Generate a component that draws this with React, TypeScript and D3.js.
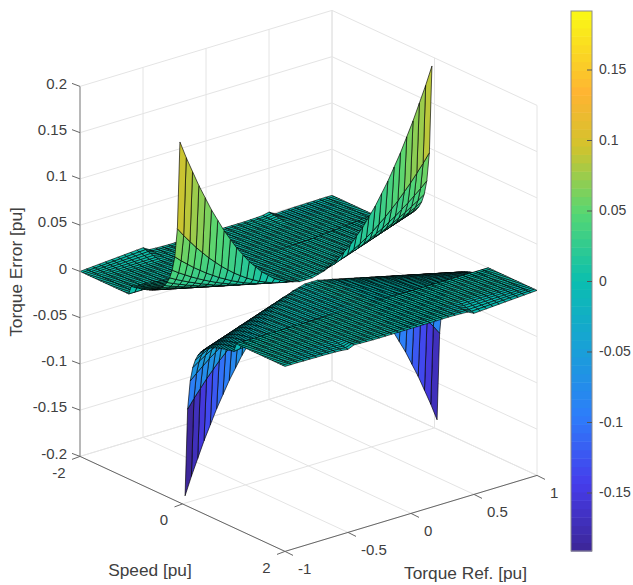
import * as React from "react";
import { useRef, useEffect } from "react";
import * as d3 from "d3";

// torque reference columns and the t^2-like shape read along the spike edges
const torqueRef = [
  -1, -0.95, -0.9, -0.85, -0.8, -0.75, -0.7, -0.65, -0.6, -0.55, -0.5, -0.45, -0.4, -0.35,
  -0.3, -0.25, -0.2, -0.15, -0.1, -0.05, 0, 0.05, 0.1, 0.15, 0.2, 0.25, 0.3, 0.35, 0.4, 0.45,
  0.5, 0.55, 0.6, 0.65, 0.7, 0.75, 0.8, 0.85, 0.9, 0.95, 1,
];
const torqueShape = [
  1, 0.9, 0.81, 0.72, 0.64, 0.56, 0.49, 0.42, 0.36, 0.3, 0.25, 0.2, 0.16, 0.12, 0.09, 0.06,
  0.04, 0.02, 0.01, 0, 0, 0, 0.01, 0.02, 0.04, 0.06, 0.09, 0.12, 0.16, 0.2, 0.25, 0.3, 0.36,
  0.42, 0.49, 0.56, 0.64, 0.72, 0.81, 0.9, 1,
];
// small ridges near |torque| = 0.5 in the |speed| > 1 part, one per sheet
const ridgeShapeNeg = [
  0, 0.1, 0.2, 0.3, 0.4, 0.5, 0.6, 0.7, 0.8, 0.9, 1, 0.2, 0.1, 0.05, 0, 0, 0, 0, 0, 0, 0, 0, 0,
  0, 0, 0, 0, 0.05, 0.1, 0.2, 0.5, -0.3, -0.2, -0.15, -0.1, -0.1, -0.05, -0.05, 0, 0, 0,
];
const ridgeShapePos = [
  0, 0, 0, 0.05, 0.05, 0.1, 0.1, 0.15, 0.2, 0.3, 0.5, -0.2, -0.1, -0.05, 0, 0, 0, 0, 0, 0, 0, 0,
  0, 0, 0, 0, 0, 0.05, 0.1, 0.2, 1, 0.9, 0.8, 0.7, 0.6, 0.5, 0.4, 0.3, 0.2, 0.1, 0,
];

const speedNeg = [
  -2, -1.95, -1.9, -1.85, -1.8, -1.75, -1.7, -1.65, -1.6, -1.55, -1.5, -1.45, -1.4, -1.35, -1.3,
  -1.25, -1.2, -1.15, -1.1, -1.05, -1, -0.95, -0.9, -0.85, -0.8, -0.75, -0.7, -0.65, -0.6, -0.55,
  -0.5, -0.45, -0.4, -0.35, -0.3, -0.25, -0.2, -0.15, -0.1, -0.05,
];
const peakNeg = [
  0, 0, 0, 0, 0, 0, 0, 0, 0, 0, 0, 0, 0, 0, 0, 0, 0, 0, 0, 0, 0.0095, 0.01, 0.0106, 0.0112,
  0.0119, 0.0127, 0.0136, 0.0146, 0.0158, 0.0173, 0.019, 0.0211, 0.0238, 0.0271, 0.0317, 0.038,
  0.0475, 0.0633, 0.095, 0.19,
];
const ridgeNeg = [
  0.005, 0.0042, 0.0034, 0.0026, 0.0018, 0.001, 0.0005, 0, 0, 0, 0, 0, 0, 0, 0, 0, 0, 0, 0, 0, 0,
  0, 0, 0, 0, 0, 0, 0, 0, 0, 0, 0, 0, 0, 0, 0, 0, 0, 0, 0,
];

const speedPos = [
  0.05, 0.1, 0.15, 0.2, 0.25, 0.3, 0.35, 0.4, 0.45, 0.5, 0.55, 0.6, 0.65, 0.7, 0.75, 0.8, 0.85,
  0.9, 0.95, 1, 1.05, 1.1, 1.15, 1.2, 1.25, 1.3, 1.35, 1.4, 1.45, 1.5, 1.55, 1.6, 1.65, 1.7, 1.75,
  1.8, 1.85, 1.9, 1.95, 2,
];
const peakPos = [
  -0.19, -0.095, -0.0633, -0.0475, -0.038, -0.0317, -0.0271, -0.0238, -0.0211, -0.019, -0.0173,
  -0.0158, -0.0146, -0.0136, -0.0127, -0.0119, -0.0112, -0.0106, -0.01, -0.0095, 0, 0, 0, 0, 0, 0,
  0, 0, 0, 0, 0, 0, 0, 0, 0, 0, 0, 0, 0, 0,
];
const ridgePos = [
  0, 0, 0, 0, 0, 0, 0, 0, 0, 0, 0, 0, 0, 0, 0, 0, 0, 0, 0, 0, 0, 0, 0, 0, 0, 0, 0, 0, 0, 0, 0, 0,
  0, 0.0001, 0.0005, 0.001, 0.0018, 0.0026, 0.0034, 0.0042,
].map((v) => -v);

const zTicks = [-0.2, -0.15, -0.1, -0.05, 0, 0.05, 0.1, 0.15, 0.2];
const speedTicks = [-2, 0, 2];
const torqueTicks = [-1, -0.5, 0, 0.5, 1];
const colorTicks = [-0.15, -0.1, -0.05, 0, 0.05, 0.1, 0.15];

const colorStops = [0, 0.125, 0.25, 0.375, 0.5, 0.625, 0.75, 0.85, 0.9, 1];
const colorValues = [
  "rgb(60,38,150)", "rgb(70,60,235)", "rgb(45,125,250)", "rgb(25,160,215)", "rgb(10,190,175)",
  "rgb(85,215,115)", "rgb(210,195,45)", "rgb(255,180,50)", "rgb(250,205,40)", "rgb(250,250,20)",
];

const zMin = -0.1915;
const zMax = 0.1915;
const textColor = "#404040";
const gridColor = "#e4e4e4";
const fontFamily = "'Liberation Sans', Arial, sans-serif";

export default function App() {
  const _parentRef = useRef<SVGSVGElement | null>(null);
  useEffect(() => {
    const svg = d3.select(_parentRef.current);
    svg.selectAll("*").remove();

    // oblique projection of the MATLAB box, from its corners in the picture
    const speedX = d3.scaleLinear().domain([-2, 2]).range([0, 205]);
    const speedY = d3.scaleLinear().domain([-2, 2]).range([0, 95]);
    const torqueX = d3.scaleLinear().domain([-1, 1]).range([0, 252]);
    const torqueY = d3.scaleLinear().domain([-1, 1]).range([0, -76]);
    const errorY = d3.scaleLinear().domain([-0.2, 0.2]).range([0, -370]);
    const project = (s: number, t: number, z: number): [number, number] => [
      80 + speedX(s) + torqueX(t),
      456.4 + speedY(s) + torqueY(t) + errorY(z),
    ];
    const line = d3.line();

    const colormap = d3
      .scaleLinear<string>()
      .domain(colorStops)
      .range(colorValues)
      .interpolate(d3.interpolateRgb);
    const band = (z: number) => {
      const k = Math.min(63, Math.max(0, Math.floor(((z - zMin) / (zMax - zMin)) * 64)));
      return colormap((k + 0.5) / 64);
    };

    // grid on the walls and the floor
    const grid = svg.append("g").attr("fill", "none").attr("stroke", gridColor);
    const seg = (a: [number, number], b: [number, number], sel = grid) =>
      sel.append("path").attr("d", line([a, b]));
    zTicks.forEach((z) => {
      seg(project(-2, -1, z), project(-2, 1, z));
      seg(project(-2, 1, z), project(2, 1, z));
    });
    torqueTicks.forEach((t) => {
      seg(project(-2, t, -0.2), project(-2, t, 0.2));
      seg(project(-2, t, -0.2), project(2, t, -0.2));
    });
    speedTicks.forEach((s) => {
      seg(project(s, 1, -0.2), project(s, 1, 0.2));
      seg(project(s, -1, -0.2), project(s, 1, -0.2));
    });

    // surface, back to front in grid order (speed up, torque down)
    const surface = svg
      .append("g")
      .attr("stroke", "#000")
      .attr("stroke-width", 0.65)
      .attr("stroke-linejoin", "round");
    const drawSheet = (speed: number[], peak: number[], ridge: number[], ridgeShape: number[]) => {
      const z = speed.map((_, j) => torqueRef.map((_, i) => peak[j] * torqueShape[i] + ridge[j] * ridgeShape[i]));
      for (let j = 0; j < speed.length - 1; j++) {
        for (let i = torqueRef.length - 2; i >= 0; i--) {
          const corners = [
            project(speed[j], torqueRef[i], z[j][i]),
            project(speed[j], torqueRef[i + 1], z[j][i + 1]),
            project(speed[j + 1], torqueRef[i + 1], z[j + 1][i + 1]),
            project(speed[j + 1], torqueRef[i], z[j + 1][i]),
          ];
          surface
            .append("path")
            .attr("d", line(corners) + "Z")
            .attr("fill", band(z[j][i]));
        }
      }
    };
    drawSheet(speedNeg, peakNeg, ridgeNeg, ridgeShapeNeg);
    drawSheet(speedPos, peakPos, ridgePos, ridgeShapePos);

    // axes
    const axes = svg.append("g").attr("fill", "none");
    axes
      .append("path")
      .attr("d", line([project(-2, -1, -0.2), project(-2, -1, 0.2)]))
      .attr("stroke", "#a0a0a0")
      .attr("stroke-width", 1.4);
    axes
      .append("path")
      .attr("d", line([project(-2, -1, -0.2), project(2, -1, -0.2), project(2, 1, -0.2)]))
      .attr("stroke", "#666");

    const labels = svg
      .append("g")
      .attr("fill", textColor)
      .style("font-family", fontFamily)
      .style("font-size", "15px");
    const tick = (p: [number, number], dx: number, dy: number) =>
      axes
        .append("path")
        .attr("d", line([p, [p[0] + dx, p[1] + dy]]))
        .attr("stroke", "#666");

    zTicks.forEach((z) => {
      const p = project(-2, -1, z);
      tick(p, -8, -3);
      labels
        .append("text")
        .attr("x", 67)
        .attr("y", p[1] - 3)
        .attr("dy", "0.35em")
        .attr("text-anchor", "end")
        .text(String(z));
    });
    speedTicks.forEach((s) => {
      const p = project(s, -1, -0.2);
      tick(p, -8, 3);
      labels
        .append("text")
        .attr("x", p[0] - 14.5)
        .attr("y", p[1] + 16)
        .attr("dy", "0.35em")
        .attr("text-anchor", "end")
        .text(String(s));
    });
    torqueTicks.forEach((t) => {
      const p = project(2, t, -0.2);
      tick(p, 8, 4);
      labels
        .append("text")
        .attr("x", p[0] + 13)
        .attr("y", p[1] + 17)
        .attr("dy", "0.35em")
        .attr("text-anchor", "start")
        .text(String(t));
    });

    const titles = svg
      .append("g")
      .attr("fill", textColor)
      .attr("text-anchor", "middle")
      .style("font-family", fontFamily)
      .style("font-size", "17.3px");
    titles.append("text").attr("x", 150).attr("y", 576).text("Speed [pu]");
    titles.append("text").attr("x", 465.5).attr("y", 579).text("Torque Ref. [pu]");
    titles
      .append("text")
      .attr("transform", "translate(22,272) rotate(-90)")
      .text("Torque Error [pu]");

    // colorbar
    const colorY = d3.scaleLinear().domain([zMin, zMax]).range([551, 11]);
    const bar = svg.append("g");
    d3.range(64).forEach((k) => {
      const lo = zMin + ((zMax - zMin) * k) / 64;
      const hi = zMin + ((zMax - zMin) * (k + 1)) / 64;
      bar
        .append("rect")
        .attr("x", 571)
        .attr("y", colorY(hi))
        .attr("width", 21)
        .attr("height", colorY(lo) - colorY(hi) + 0.5)
        .attr("fill", band((lo + hi) / 2));
    });
    bar
      .append("rect")
      .attr("x", 571)
      .attr("y", 11)
      .attr("width", 21)
      .attr("height", 540)
      .attr("fill", "none")
      .attr("stroke", "#8c8c8c");
    const barAxis = svg
      .append("g")
      .attr("transform", "translate(592,0)")
      .call(
        d3
          .axisRight(colorY)
          .tickValues(colorTicks)
          .tickSize(-5)
          .tickPadding(7)
          .tickFormat((d) => String(d)),
      );
    barAxis.select(".domain").remove();
    barAxis.selectAll("line").attr("stroke", "#555");
    barAxis
      .selectAll("text")
      .attr("fill", textColor)
      .style("font-family", fontFamily)
      .style("font-size", "14px");
  }, []);

  return (
    <svg
      ref={_parentRef}
      width={633}
      height={585}
      style={{ position: "absolute", left: 0, top: 0 }}
    />
  );
}
